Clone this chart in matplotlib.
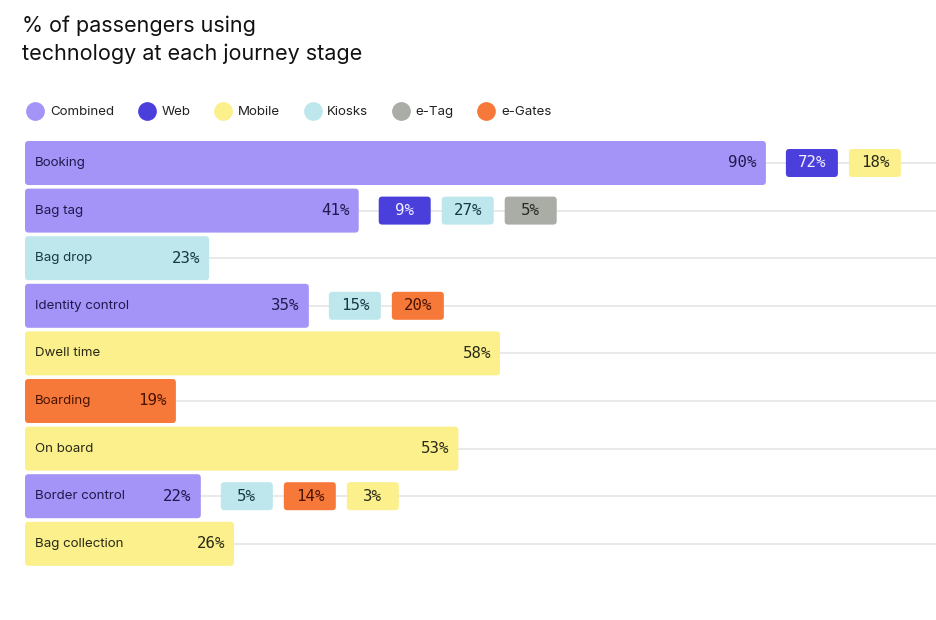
import matplotlib
matplotlib.use("Agg")
import matplotlib.pyplot as plt
from matplotlib.patches import FancyBboxPatch
from matplotlib.lines import Line2D

# ---------------- data ----------------
stages = ["Booking", "Bag tag", "Bag drop", "Identity control", "Dwell time",
          "Boarding", "On board", "Border control", "Bag collection"]
main_series = ["Combined", "Combined", "Kiosks", "Combined", "Mobile",
               "e-Gates", "Mobile", "Combined", "Mobile"]
main_values = [90, 41, 23, 35, 58, 19, 53, 22, 26]
extra_series = [["Web", "Mobile"], ["Web", "Kiosks", "e-Tag"], [], ["Kiosks", "e-Gates"],
                [], [], [], ["Kiosks", "e-Gates", "Mobile"], []]
extra_values = [[72, 18], [9, 27, 5], [], [15, 20], [], [], [], [5, 14, 3], []]
legend_series = ["Combined", "Web", "Mobile", "Kiosks", "e-Tag", "e-Gates"]

# ---------------- styles ----------------
colors = {"Combined": "#A594F7", "Web": "#4A3FDA", "Mobile": "#FBF08B",
          "Kiosks": "#BEE7ED", "e-Tag": "#A9ADA5", "e-Gates": "#F7793A"}
text_colors = {"Combined": "#1E1A4F", "Web": "#F2F0FF", "Mobile": "#2A2918",
               "Kiosks": "#173A40", "e-Tag": "#262A25", "e-Gates": "#4A1300"}
SANS = ["Inter", "DejaVu Sans"]
MONO = ["DejaVu Sans Mono"]

W, H, DPI = 937, 620, 100
PX_X = 8.31          # pixels per percentage point
X0 = 18              # pixel position of 0 %
ROW0 = 163           # pixel centre of first row
ROW_PX = 47.6        # pixels per row

fig = plt.figure(figsize=(W / DPI, H / DPI), dpi=DPI)
fig.patch.set_facecolor("white")
ax = fig.add_axes([0, 0, 1, 1])
ax.set_xlim(-X0 / PX_X, (W - X0) / PX_X)
ax.set_ylim((H - ROW0) / ROW_PX, -ROW0 / ROW_PX)
ax.axis("off")

px = lambda p: p / PX_X      # pixel length -> x units
py = lambda p: p / ROW_PX    # pixel length -> row units

bar_left = px(25 - X0)
bar_h = py(44)
pill_h = py(28)
pill_w = px(52)
first_gap = px(20)
gap = px(11)
aspect = PX_X / ROW_PX
rs = px(3.5)

xmax = (W - X0) / PX_X
for i in range(len(stages)):
    ax.hlines(i, bar_left, xmax, color="#E7E7E7", lw=1.3, zorder=0)

for i, (stage, ser, val) in enumerate(zip(stages, main_series, main_values)):
    p = FancyBboxPatch((bar_left, i - bar_h / 2), val - bar_left, bar_h,
                       boxstyle=f"round,pad=0,rounding_size={rs}",
                       mutation_aspect=aspect, fc=colors[ser], ec="none", zorder=2)
    ax.add_patch(p)
    ax.annotate(stage, (bar_left, i), xytext=(7.2, 0), textcoords="offset points",
                ha="left", va="center", fontsize=9.6, family=SANS,
                color=text_colors[ser], zorder=3)
    ax.annotate(f"{val}%", (val, i), xytext=(-6.5, 0), textcoords="offset points",
                ha="right", va="center", fontsize=11.3, family=MONO,
                color=text_colors[ser], zorder=3)
    x = val + first_gap
    for es, ev in zip(extra_series[i], extra_values[i]):
        q = FancyBboxPatch((x, i - pill_h / 2), pill_w, pill_h,
                           boxstyle=f"round,pad=0,rounding_size={rs}",
                           mutation_aspect=aspect, fc=colors[es], ec="none", zorder=2)
        ax.add_patch(q)
        ax.text(x + pill_w / 2, i, f"{ev}%", ha="center", va="center",
                fontsize=11.3, family=MONO, color=text_colors[es], zorder=3)
        x += pill_w + gap

# title
fig.text(22 / W, 1 - 15 / H, "% of passengers using\ntechnology at each journey stage",
         ha="left", va="top", fontsize=15.5, family=SANS, color="#111111",
         linespacing=1.5)

# legend
handles = [Line2D([], [], ls="none", marker="o", markersize=13.5,
                  mfc=colors[s], mec="none") for s in legend_series]
leg = fig.legend(handles, legend_series, loc="center left",
                 bbox_to_anchor=(26 / W, 1 - 112 / H), ncol=6, frameon=False,
                 handlelength=1.4, handletextpad=0.4, columnspacing=1.75,
                 borderpad=0, borderaxespad=0,
                 prop={"family": SANS, "size": 9.6})
for t in leg.get_texts():
    t.set_color("#222222")

fig.savefig("out.png", dpi=DPI, facecolor="white")
